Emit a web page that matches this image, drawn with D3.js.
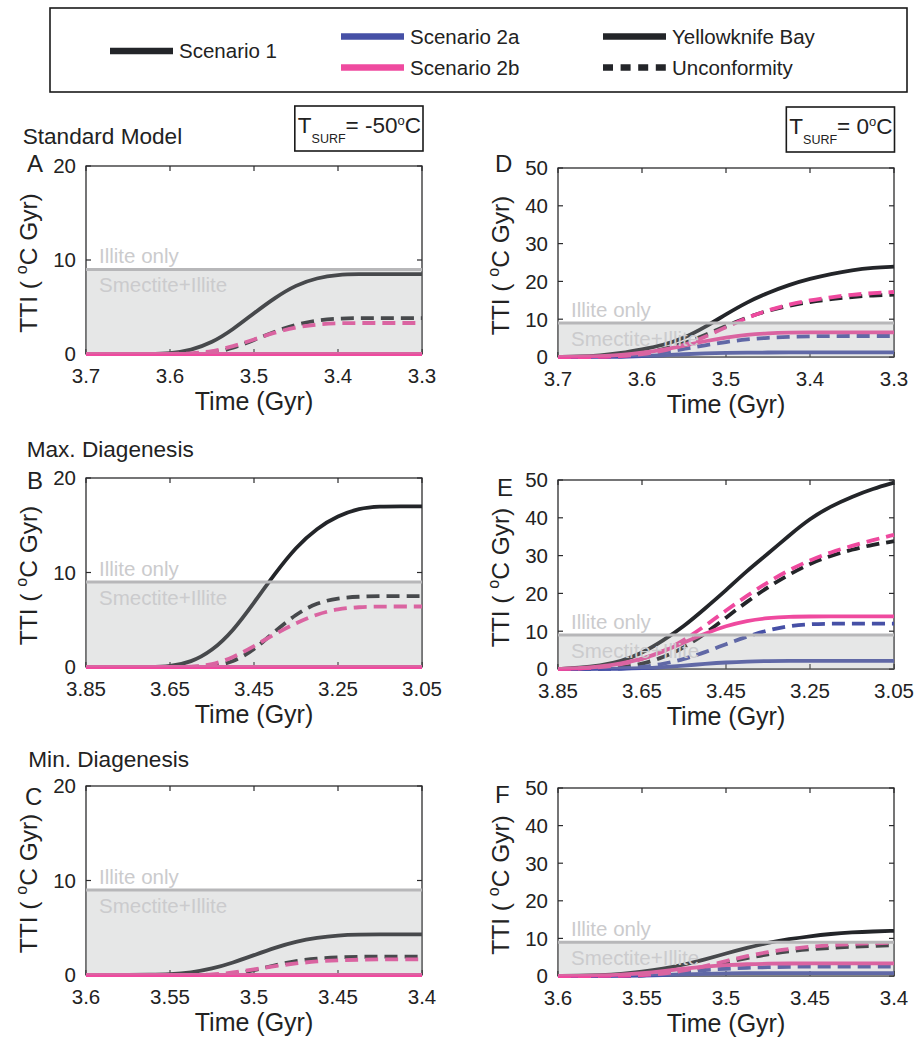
<!DOCTYPE html>
<html><head><meta charset="utf-8">
<script src="https://cdn.jsdelivr.net/npm/d3@7"></script>
<style>
body{margin:0;background:#fff}
svg{display:block}
text{font-family:"Liberation Sans", Arial, Helvetica, sans-serif; fill:#222}
</style>
</head><body>
<svg id="chart" width="921" height="1040"></svg>
<script>
// ---------- DATA ----------
const illiteThreshold = 9;

// sample times (Gyr)
const timeStd = [3.7,3.675,3.65,3.625,3.6,3.575,3.55,3.525,3.5,3.475,3.45,3.425,3.4,3.375,3.35,3.325,3.3];
const timeMax = [3.85,3.8,3.75,3.7,3.65,3.6,3.55,3.5,3.45,3.4,3.35,3.3,3.25,3.2,3.15,3.1,3.05];
const timeMin = [3.6,3.5875,3.575,3.5625,3.55,3.5375,3.525,3.5125,3.5,3.4875,3.475,3.4625,3.45,3.4375,3.425,3.4125,3.4];

// tick labels
const ticksStd = [3.7,3.6,3.5,3.4,3.3];
const ticksMax = [3.85,3.65,3.45,3.25,3.05];
const ticksMin = [3.6,3.55,3.5,3.45,3.4];
const yTicksCold = [0,10,20];
const yTicksWarm = [0,10,20,30,40,50];

// Panel A: Standard model, Tsurf = -50 C
const A_s1_yb = [0,0,0,0,0.05,0.4,1.2,2.6,4.35,6.0,7.35,8.1,8.45,8.5,8.5,8.5,8.5];
const A_s1_un = [0,0,0,0,0,0,0.1,0.6,1.5,2.4,3.15,3.6,3.78,3.82,3.82,3.82,3.82];
const A_s2a_yb = [0,0,0,0,0,0,0,0,0,0,0,0,0,0,0,0,0];
const A_s2a_un = [0,0,0,0,0,0,0,0,0,0,0,0,0,0,0,0,0];
const A_s2b_yb = [0,0,0,0,0,0,0,0,0,0,0,0,0,0,0,0,0];
const A_s2b_un = [0,0,0,0,0,0.05,0.25,0.8,1.55,2.3,2.85,3.15,3.28,3.3,3.3,3.3,3.3];

// Panel D: Standard model, Tsurf = 0 C
const D_s1_yb = [0,0.1,0.4,1.0,2.0,3.1,5.0,7.9,11.3,14.5,17.0,19.1,20.7,22.0,23.0,23.6,23.9];
const D_s1_un = [0,0,0,0.3,0.9,2.0,3.6,5.8,8.2,10.5,12.3,13.6,14.6,15.3,15.9,16.3,16.5];
const D_s2a_yb = [0,0,0,0.05,0.2,0.45,0.75,0.95,1.1,1.15,1.2,1.2,1.2,1.2,1.2,1.2,1.2];
const D_s2a_un = [0,0,0,0.1,0.5,1.2,2.1,3.1,4.0,4.7,5.1,5.35,5.5,5.55,5.55,5.55,5.55];
const D_s2b_yb = [0,0.05,0.2,0.55,1.1,1.9,3.0,4.2,5.2,5.9,6.3,6.45,6.5,6.5,6.5,6.5,6.5];
const D_s2b_un = [0,0,0,0.2,0.7,1.6,3.1,5.3,7.9,10.4,12.4,13.9,15.0,15.8,16.5,16.9,17.2];

// Panel B: Max. diagenesis, Tsurf = -50 C
const B_s1_yb = [0,0,0,0,0.05,0.5,1.7,3.8,6.8,9.9,12.7,14.7,16.0,16.8,17.0,17.0,17.0];
const B_s1_un = [0,0,0,0,0,0,0.05,0.5,1.8,3.8,5.6,6.8,7.3,7.45,7.5,7.5,7.5];
const B_s2a_yb = [0,0,0,0,0,0,0,0,0,0,0,0,0,0,0,0,0];
const B_s2a_un = [0,0,0,0,0,0,0,0,0,0,0,0,0,0,0,0,0];
const B_s2b_yb = [0,0,0,0,0,0,0,0,0,0,0,0,0,0,0,0,0];
const B_s2b_un = [0,0,0,0,0,0.02,0.2,1.0,2.2,3.5,4.65,5.6,6.15,6.35,6.4,6.4,6.4];

// Panel E: Max. diagenesis, Tsurf = 0 C
const E_s1_yb = [0,0.3,0.9,2.0,4.2,7.5,11.3,16.0,20.8,26.0,30.5,35.3,39.8,43.1,45.6,47.7,49.3];
const E_s1_un = [0,0,0.1,0.4,1.3,3.0,5.6,9.3,13.6,17.8,21.7,25.0,27.9,30.0,31.6,32.9,33.8];
const E_s2a_yb = [0,0,0,0.05,0.2,0.5,0.9,1.35,1.75,2.0,2.1,2.15,2.15,2.15,2.15,2.15,2.15];
const E_s2a_un = [0,0,0,0.1,0.5,1.3,2.6,4.4,6.6,8.6,10.3,11.4,11.9,12.0,12.0,12.0,12.0];
const E_s2b_yb = [0,0.15,0.6,1.4,2.6,4.6,7.0,9.4,11.4,12.8,13.5,13.85,13.9,13.9,13.9,13.9,13.9];
const E_s2b_un = [0,0.1,0.4,1.2,2.5,4.6,7.6,11.4,15.5,19.4,23.0,26.2,28.8,30.9,32.6,34.1,35.5];

// Panel C: Min. diagenesis, Tsurf = -50 C
const C_s1_yb = [0,0,0,0.02,0.07,0.25,0.65,1.3,2.1,2.9,3.55,3.95,4.2,4.28,4.3,4.3,4.3];
const C_s1_un = [0,0,0,0,0,0,0,0.05,0.5,1.05,1.5,1.75,1.87,1.93,1.95,1.95,1.95];
const C_s2a_yb = [0,0,0,0,0,0,0,0,0,0,0,0,0,0,0,0,0];
const C_s2a_un = [0,0,0,0,0,0,0,0,0,0,0,0,0,0,0,0,0];
const C_s2b_yb = [0,0,0,0,0,0,0,0,0,0,0,0,0,0,0,0,0];
const C_s2b_un = [0,0,0,0,0,0,0.03,0.25,0.6,0.95,1.23,1.45,1.57,1.62,1.65,1.65,1.65];

// Panel F: Min. diagenesis, Tsurf = 0 C
const F_s1_yb = [0,0.05,0.2,0.5,1.15,1.95,3.0,4.4,6.0,7.5,8.85,9.8,10.6,11.2,11.6,11.85,12.0];
const F_s1_un = [0,0,0,0.02,0.1,0.5,1.2,2.3,3.6,4.8,5.8,6.6,7.1,7.5,7.8,8.0,8.2];
const F_s2a_yb = [0,0,0,0.02,0.1,0.25,0.45,0.6,0.7,0.75,0.78,0.78,0.78,0.78,0.78,0.78,0.78];
const F_s2a_un = [0,0,0,0.02,0.15,0.5,1.1,1.6,1.95,2.2,2.35,2.45,2.5,2.5,2.5,2.5,2.5];
const F_s2b_yb = [0,0.05,0.15,0.35,0.7,1.3,2.0,2.55,2.9,3.15,3.28,3.33,3.35,3.35,3.35,3.35,3.35];
const F_s2b_un = [0,0,0,0.05,0.2,0.6,1.4,2.6,4.0,5.3,6.4,7.2,7.8,8.2,8.5,8.7,8.85];

const legendScenarios = ["Scenario 1","Scenario 2a","Scenario 2b"];
const legendSites = ["Yellowknife Bay","Unconformity"];
const rowTitles = ["Standard Model","Max. Diagenesis","Min. Diagenesis"];
const tsurfLabels = ["-50","0"];

// ---------- STYLE ----------
const colS1 = "#232529", colS2a = "#4650a6", colS2b = "#ef4a9f";
const lw = 3.8, dash = "13,7";

const svg = d3.select("#chart");

function buildSeries(t, s1y, s1u, s2ay, s2au, s2by, s2bu){
  return [
    {t, v:s1y, c:colS1, d:false},
    {t, v:s1u, c:colS1, d:true},
    {t, v:s2ay, c:colS2a, d:false},
    {t, v:s2au, c:colS2a, d:true},
    {t, v:s2by, c:colS2b, d:false},
    {t, v:s2bu, c:colS2b, d:true}
  ];
}

const panels = [
  {L:"A", x:86, y:166, w:336, h:188, t:timeStd, ticks:ticksStd, yt:yTicksCold, ymax:20, lx:27, ly:172,
   series: buildSeries(timeStd,A_s1_yb,A_s1_un,A_s2a_yb,A_s2a_un,A_s2b_yb,A_s2b_un)},
  {L:"D", x:558, y:168, w:336, h:189, t:timeStd, ticks:ticksStd, yt:yTicksWarm, ymax:50, lx:495, ly:172,
   series: buildSeries(timeStd,D_s1_yb,D_s1_un,D_s2a_yb,D_s2a_un,D_s2b_yb,D_s2b_un)},
  {L:"B", x:86, y:478, w:336, h:189, t:timeMax, ticks:ticksMax, yt:yTicksCold, ymax:20, lx:27, ly:489,
   series: buildSeries(timeMax,B_s1_yb,B_s1_un,B_s2a_yb,B_s2a_un,B_s2b_yb,B_s2b_un)},
  {L:"E", x:558, y:480, w:336, h:189, t:timeMax, ticks:ticksMax, yt:yTicksWarm, ymax:50, lx:497, ly:496,
   series: buildSeries(timeMax,E_s1_yb,E_s1_un,E_s2a_yb,E_s2a_un,E_s2b_yb,E_s2b_un)},
  {L:"C", x:86, y:786, w:336, h:189, t:timeMin, ticks:ticksMin, yt:yTicksCold, ymax:20, lx:25, ly:805,
   series: buildSeries(timeMin,C_s1_yb,C_s1_un,C_s2a_yb,C_s2a_un,C_s2b_yb,C_s2b_un)},
  {L:"F", x:558, y:788, w:336, h:188, t:timeMin, ticks:ticksMin, yt:yTicksWarm, ymax:50, lx:495, ly:803,
   series: buildSeries(timeMin,F_s1_yb,F_s1_un,F_s2a_yb,F_s2a_un,F_s2b_yb,F_s2b_un)}
];

panels.forEach(p => {
  const xs = d3.scaleLinear().domain([p.ticks[0], p.ticks[p.ticks.length-1]]).range([p.x, p.x+p.w]);
  const ys = d3.scaleLinear().domain([0, p.ymax]).range([p.y+p.h, p.y]);
  const g = svg.append("g");

  // frame
  g.append("rect").attr("x",p.x).attr("y",p.y).attr("width",p.w).attr("height",p.h)
    .attr("fill","#fff").attr("stroke","#2b2b2d").attr("stroke-width",1.3);

  // ticks (inside, mirrored)
  const tk = 5;
  p.ticks.forEach(v => {
    const X = xs(v);
    g.append("line").attr("x1",X).attr("x2",X).attr("y1",p.y+p.h).attr("y2",p.y+p.h-tk).attr("stroke","#2b2b2d").attr("stroke-width",1.2);
    g.append("line").attr("x1",X).attr("x2",X).attr("y1",p.y).attr("y2",p.y+tk).attr("stroke","#2b2b2d").attr("stroke-width",1.2);
    g.append("text").attr("x",X).attr("y",p.y+p.h+29).attr("text-anchor","middle")
      .attr("font-size",20.5).text(String(v));
  });
  p.yt.forEach(v => {
    const Y = ys(v);
    g.append("line").attr("x1",p.x).attr("x2",p.x+tk).attr("y1",Y).attr("y2",Y).attr("stroke","#2b2b2d").attr("stroke-width",1.2);
    g.append("line").attr("x1",p.x+p.w).attr("x2",p.x+p.w-tk).attr("y1",Y).attr("y2",Y).attr("stroke","#2b2b2d").attr("stroke-width",1.2);
    g.append("text").attr("x",p.x-10).attr("y",Y).attr("dy","0.36em").attr("text-anchor","end")
      .attr("font-size",20.5).text(String(v));
  });

  // curves
  const line = d3.line().x(d=>xs(d[0])).y(d=>ys(d[1])).curve(d3.curveBasis);
  p.series.forEach(s => {
    const pts = s.t.map((tt,i)=>[tt, s.v[i]]);
    g.append("path").attr("d", line(pts)).attr("fill","none")
      .attr("stroke", s.c).attr("stroke-width", lw)
      .attr("stroke-dasharray", s.d ? dash : null);
  });

  // shaded smectite+illite region (translucent, over curves)
  g.append("rect").attr("x",p.x).attr("y",ys(illiteThreshold))
    .attr("width",p.w).attr("height",ys(0)-ys(illiteThreshold))
    .attr("fill","#a6aaaa").attr("fill-opacity",0.28);
  g.append("line").attr("x1",p.x).attr("x2",p.x+p.w)
    .attr("y1",ys(illiteThreshold)).attr("y2",ys(illiteThreshold))
    .attr("stroke","#b7b7b9").attr("stroke-width",3);
  g.append("text").attr("x",p.x+13).attr("y",ys(illiteThreshold)-6)
    .attr("font-size",20.5).style("fill","#cbcbcd").text("Illite only");
  g.append("text").attr("x",p.x+13).attr("y",ys(illiteThreshold)+23)
    .attr("font-size",20.5).style("fill","#cbcbcd").text("Smectite+Illite");

  // axis titles
  g.append("text").attr("x",p.x+p.w/2).attr("y",p.y+p.h+56).attr("text-anchor","middle")
    .attr("font-size",25).text("Time (Gyr)");
  const yl = g.append("text").attr("transform",`translate(${p.x-49},${p.y+p.h/2+3}) rotate(-90)`)
    .attr("text-anchor","middle").attr("font-size",24.5);
  yl.append("tspan").text("TTI ( ");
  yl.append("tspan").attr("font-size",16).attr("dy",-10).text("o");
  yl.append("tspan").attr("dy",10).text("C Gyr)");

  // panel letter
  g.append("text").attr("x",p.lx).attr("y",p.ly).attr("font-size",24).text(p.L);
});

// row titles
[[22.7,144,0],[26.7,457,1],[28.3,767,2]].forEach(r=>{
  svg.append("text").attr("x",r[0]).attr("y",r[1]).attr("font-size",22.6).text(rowTitles[r[2]]);
});

// Tsurf boxes
function tsurfBox(rightX, top, val){
  const g = svg.append("g");
  const t = g.append("text").attr("y", top+27).attr("font-size",22.5);
  t.append("tspan").text("T");
  t.append("tspan").attr("font-size",12.5).attr("dy",10).text("SURF");
  t.append("tspan").attr("dy",-10).text("= " + val);
  t.append("tspan").attr("font-size",13).attr("dy",-8).text("o");
  t.append("tspan").attr("dy",8).text("C");
  const bb = t.node().getBBox();
  const w = bb.width + 5;
  const left = rightX - w;
  t.attr("x", left + 3);
  g.insert("rect","text").attr("x",left).attr("y",top).attr("width",w).attr("height",45)
    .attr("fill","#fff").attr("stroke","#1a1a1a").attr("stroke-width",1.6);
}
tsurfBox(423, 106, tsurfLabels[0]);
tsurfBox(894.5, 107, tsurfLabels[1]);

// Legend
const lg = svg.append("g");
lg.append("rect").attr("x",50).attr("y",8).attr("width",857).attr("height",84)
  .attr("fill","none").attr("stroke","#1a1a1a").attr("stroke-width",1.6);
const legItems = [
  {x:110, y:51, c:colS1, d:false, label:legendScenarios[0]},
  {x:341, y:36.5, c:colS2a, d:false, label:legendScenarios[1]},
  {x:341, y:67.5, c:colS2b, d:false, label:legendScenarios[2]},
  {x:603, y:36.5, c:colS1, d:false, label:legendSites[0]},
  {x:603, y:67.5, c:colS1, d:true, label:legendSites[1]}
];
legItems.forEach(it=>{
  lg.append("line").attr("x1",it.x).attr("x2",it.x+63).attr("y1",it.y).attr("y2",it.y)
    .attr("stroke",it.c).attr("stroke-width",6.5).attr("stroke-dasharray", it.d ? "10,7.6" : null);
  lg.append("text").attr("x",it.x+69).attr("y",it.y).attr("dy","0.36em").attr("font-size",20.5).text(it.label);
});
</script>
</body></html>
